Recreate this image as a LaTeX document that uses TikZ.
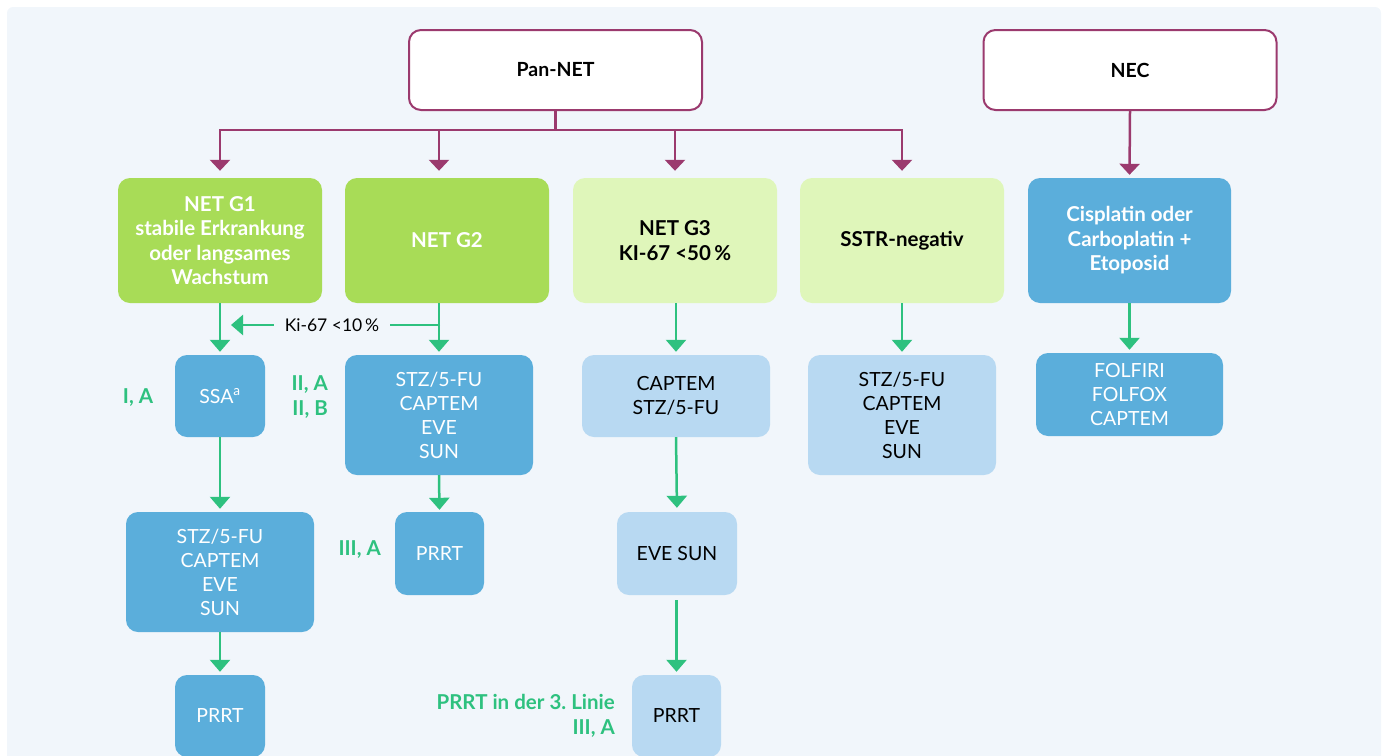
\documentclass[tikz,border=0pt]{standalone}
\usepackage{fontspec}
\setmainfont{Lato}
\usepackage{xcolor}
\usetikzlibrary{arrows.meta}
\frenchspacing

\definecolor{panelbg}{HTML}{F1F6FB}
\definecolor{netpurple}{HTML}{9B3A6E}
\definecolor{gradegreen}{HTML}{A8DC57}
\definecolor{palegreen}{HTML}{DFF6BA}
\definecolor{therablue}{HTML}{5BAEDB}
\definecolor{paleblue}{HTML}{B8D9F2}
\definecolor{arrowgreen}{HTML}{2EC17F}

\tikzset{
  boxtext/.style={font=\fontsize{19.5}{24}\selectfont},
  boldtext/.style={font=\bfseries\fontsize{20.5}{24.5}\selectfont},
  box/.style={rounded corners=12pt, align=center, inner sep=3pt, boxtext},
  topbox/.style={box, draw=netpurple, line width=2pt, fill=white,
    font=\bfseries\fontsize{19.5}{24}\selectfont, minimum width=293pt, minimum height=80pt},
  gradebox/.style={box, fill=gradegreen, text=white, boldtext,
    minimum width=204pt, minimum height=125pt},
  palebox/.style={box, fill=palegreen, boldtext,
    minimum width=204pt, minimum height=125pt},
  bluebox/.style={box, fill=therablue, text=white},
  lightbox/.style={box, fill=paleblue},
  purplearrow/.style={draw=netpurple, line width=2.5pt, -{Triangle[width=20pt,length=11pt]}},
  greenarrow/.style={draw=arrowgreen, line width=2.5pt, -{Triangle[width=20pt,length=12pt]}},
  evidence/.style={text=arrowgreen, boldtext, inner sep=0pt}
}

\begin{document}
\begin{tikzpicture}[x=1pt, y=-1pt]
      \useasboundingbox (0,0) rectangle (1383,755);
      \clip (0,0) rectangle (1383,755);
      \fill[panelbg, rounded corners=6pt] (7,7) rectangle (1381,790);

      % top row
      \node[topbox] (pannet) at (555.5,70) {Pan-NET};
      \node[topbox] (nec) at (1130,70) {NEC};

      % grading row
      \node[gradebox] (g1) at (220,240.5) {NET G1\\stabile Erkrankung\\oder langsames\\Wachstum};
      \node[gradebox] (g2) at (447,240.5) {NET G2};
      \node[palebox] (g3) at (675,240.5) {NET G3\\KI-67 <50\,\%};
      \node[palebox] (sstr) at (902,240.5) {SSTR-negativ};
      \node[box, fill=therablue, text=white, boldtext,
        minimum width=203pt, minimum height=125pt] (cispl) at (1129.5,240.5) {Cisplatin oder\\Carboplatin +\\Etoposid};

      % therapy boxes
      \node[bluebox, minimum width=90pt, minimum height=82pt] (ssa) at (220,396) {SSA\textsuperscript{a}};
      \node[bluebox, minimum width=188pt, minimum height=120pt] (stzb) at (439,415) {STZ/5-FU\\CAPTEM\\EVE\\SUN};
      \node[lightbox, minimum width=188pt, minimum height=82pt] (captem) at (676,396) {CAPTEM\\STZ/5-FU};
      \node[lightbox, minimum width=188pt, minimum height=120pt] (stzd) at (902,415) {STZ/5-FU\\CAPTEM\\EVE\\SUN};
      \node[bluebox, minimum width=187pt, minimum height=83pt] (folf) at (1129.5,394.5) {FOLFIRI\\FOLFOX\\CAPTEM};

      \node[bluebox, minimum width=188pt, minimum height=120pt] (stza) at (220,572) {STZ/5-FU\\CAPTEM\\EVE\\SUN};
      \node[bluebox, minimum width=89pt, minimum height=83pt] (prrtb) at (439.5,553.5) {PRRT};
      \node[lightbox, minimum width=120pt, minimum height=83pt] (evesun) at (677,553.5) {EVE SUN};

      \node[bluebox, minimum width=90pt, minimum height=82pt] (prrta) at (220,716) {PRRT};
      \node[lightbox, minimum width=89pt, minimum height=82pt] (prrtc) at (676.5,716) {PRRT};

      % purple connectors
      \coordinate (split) at (555.5,130);
      \draw[netpurple, line width=2.5pt] (pannet.south) -- (split);
      \draw[purplearrow, shorten >=7pt] (split) -| (g1.north);
      \draw[purplearrow, shorten >=7pt] (split) -| (g2.north -| stzb.north);
      \draw[purplearrow, shorten >=7pt] (split) -| (g3.north);
      \draw[purplearrow, shorten >=7pt] (split) -| (sstr.north);
      \draw[purplearrow, shorten >=3pt] (nec.south) -- (cispl.north);

      % green connectors
      \draw[greenarrow, shorten >=3pt] (g1.south) -- (ssa.north);
      \draw[greenarrow, shorten >=3pt] (g2.south -| stzb.north) -- (stzb.north);
      \draw[greenarrow, shorten >=3pt] (ssa.south) -- (stza.north);
      \draw[greenarrow, shorten >=3pt] (stza.south) -- (prrta.north);
      \draw[greenarrow, shorten >=2pt] (stzb.south) -- (prrtb.north);
      \draw[greenarrow, shorten >=3pt] (g3.south -| captem.north) -- (captem.north);
      \draw[greenarrow, shorten >=4pt] (captem.south) -- (evesun.north);
      \draw[greenarrow, shorten >=3pt, shorten <=5pt] (evesun.south -| prrtc.north) -- (prrtc.north);
      \draw[greenarrow, shorten >=3pt] (sstr.south) -- (stzd.north);
      \draw[greenarrow, shorten >=3pt] (cispl.south) -- (folf.north);

      % Ki-67 branch
      \coordinate (kisplit) at (440,325);
      \coordinate (kitip) at (231,325);
      \node[font=\fontsize{17.5}{20}\selectfont, inner sep=0pt, minimum width=116pt] (kilabel) at (332,325) {Ki-67 <10\,\%};
      \draw[arrowgreen, line width=2.5pt] (kisplit) -- (kilabel.east);
      \draw[greenarrow] (kilabel.west) -- (kitip);

      % evidence levels
      \node[evidence] (evssa) at (138,398) {I, A};
      \node[evidence, align=right, anchor=east] (evstz) at (328,397) {II, A\\II, B};
      \node[evidence, anchor=east] (evprrt) at (381,550) {III, A};
      \node[evidence, align=right, anchor=east] (evthird) at (615,716) {PRRT in der 3. Linie\\III, A};
    \end{tikzpicture}
\end{document}
